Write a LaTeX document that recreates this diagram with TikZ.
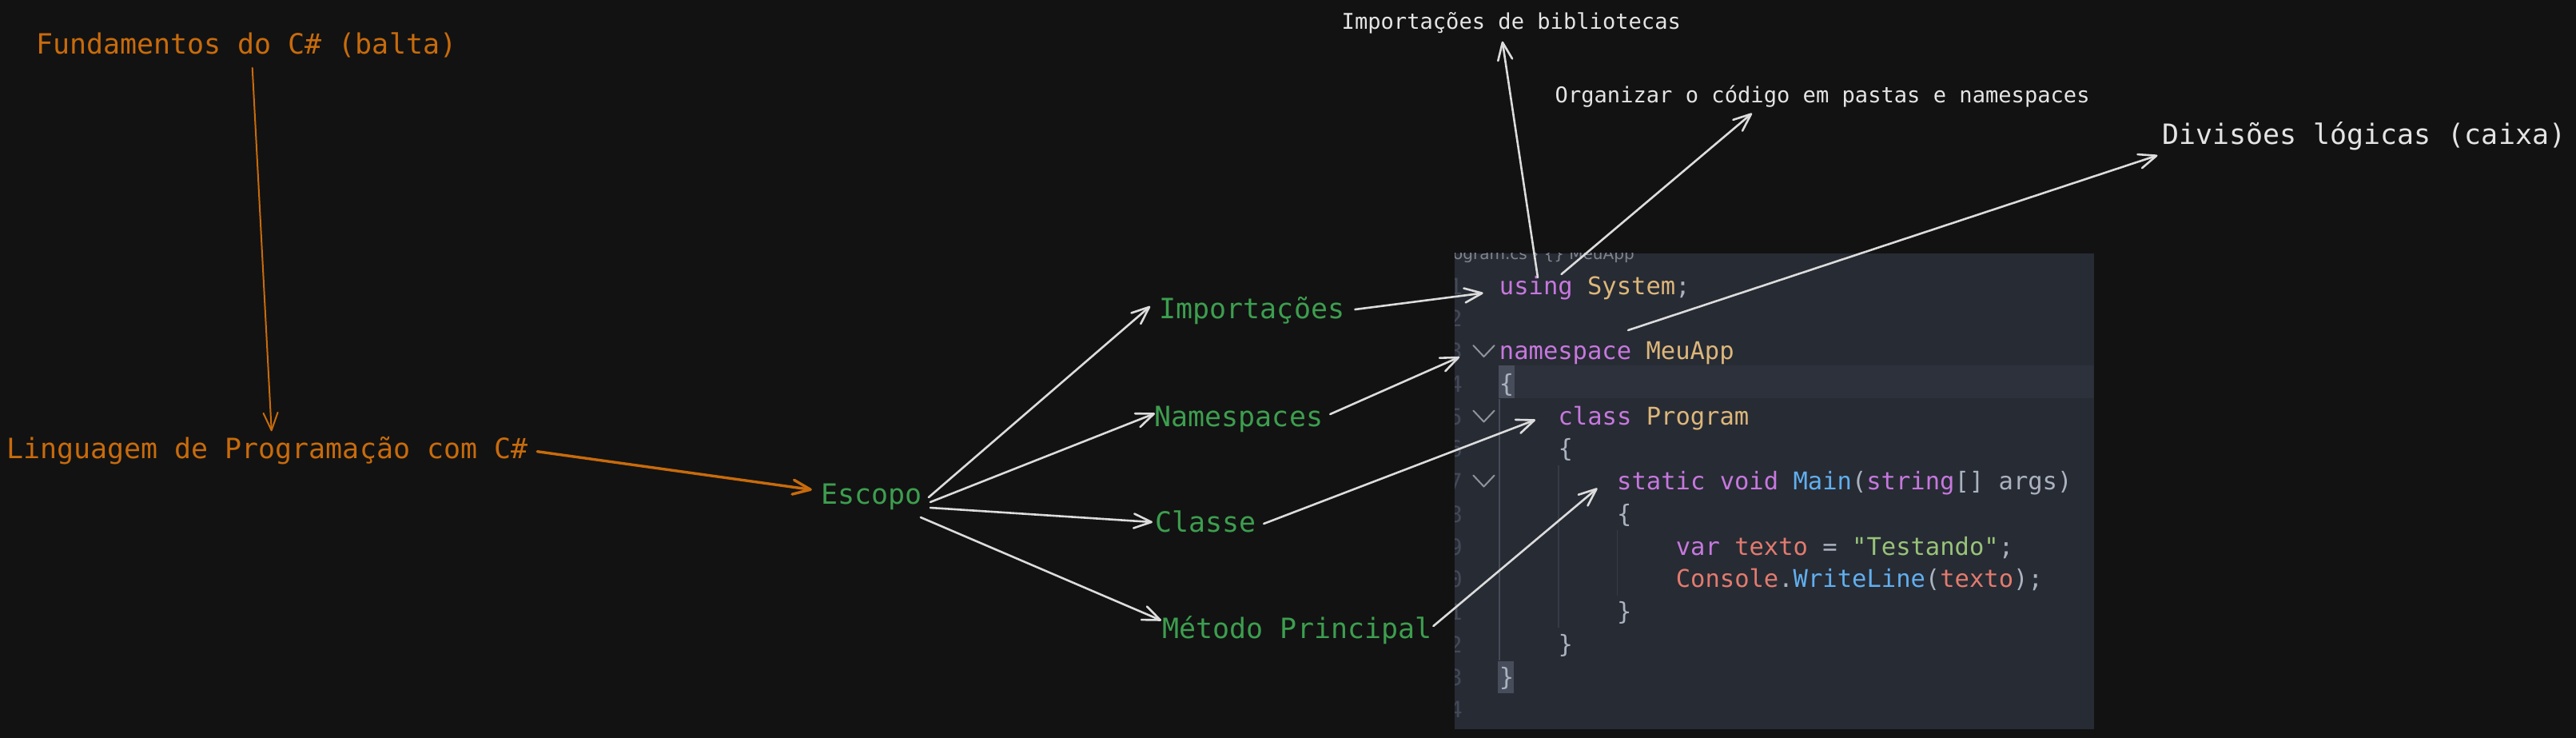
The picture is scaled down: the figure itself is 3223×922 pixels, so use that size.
\documentclass[tikz,border=0pt]{standalone}
\usepackage{fontspec}
\usetikzlibrary{arrows.meta}
\newfontfamily\monof{DejaVu Sans Mono}
\newfontfamily\sansf{DejaVu Sans}
\definecolor{bg}{HTML}{121212}
\definecolor{orng}{HTML}{C86B0C}
\definecolor{grn}{HTML}{3D9E4F}
\definecolor{wht}{HTML}{E4E4E4}
\definecolor{arrc}{HTML}{DCDCDC}
\definecolor{panel}{HTML}{272B34}
\definecolor{curline}{HTML}{2D313B}
\definecolor{bracebox}{HTML}{474D5B}
\definecolor{ckw}{HTML}{C678DD}
\definecolor{ctype}{HTML}{DDB77A}
\definecolor{cfn}{HTML}{61AFEF}
\definecolor{cvar}{HTML}{E27B6E}
\definecolor{cstr}{HTML}{98C379}
\definecolor{cgray}{HTML}{ABB2BF}
\definecolor{lnum}{HTML}{434957}
\definecolor{chev}{HTML}{8E939C}
\definecolor{guideA}{HTML}{454B57}
\definecolor{guideB}{HTML}{363B45}
\definecolor{crumbc}{HTML}{7F848E}
\begin{document}
\begin{tikzpicture}[x=1pt,y=-1pt,
  lab/.style={anchor=base west,inner sep=0pt,font=\monof\fontsize{34.95}{40}\selectfont},
  small/.style={anchor=base west,inner sep=0pt,font=\monof\fontsize{27.1}{32}\selectfont,text=wht},
  code/.style={anchor=base west,inner sep=0pt,font=\monof\fontsize{30.5}{36}\selectfont,text=cgray},
  lnumber/.style={anchor=base east,inner sep=0pt,font=\monof\fontsize{28}{34}\selectfont,text=lnum},
  arr/.style={draw=arrc,line width=2.6pt,line cap=round,line join=round,
    -{Straight Barb[length=22pt,width=18pt,round]}},
  oarr/.style={arr,draw=orng},
  chevron/.style={draw=chev,line width=2pt,line cap=round,line join=round}]
\useasboundingbox (0,0) rectangle (3223,922);
\fill[bg] (-10,-10) rectangle (3233,932);

% ---------- code panel ----------
\fill[panel] (1820,316.7) rectangle (2619.5,911.7);
\begin{scope}
\clip (1820,316.7) rectangle (2619.5,911.7);
\fill[curline] (1875,457) rectangle (2619.5,498);
\fill[bracebox] (1875,457) rectangle (1895,498);
\fill[bracebox] (1874,826.7) rectangle (1894,866.7);
\node[anchor=base west,inner sep=0pt,font=\sansf\fontsize{20}{24}\selectfont,text=crumbc] (crumb) at (1818,324) {ogram.cs › \{\} MeuApp};
\foreach \n in {1,...,14}{
  \node[lnumber] (ln\n) at (1830,{368+(\n-1)*40.75}) {\n};
}
\end{scope}
\draw[guideA,line width=1.5pt] (1876,499) -- (1876,826);
\draw[guideB,line width=1.5pt] (1950,582) -- (1950,785);
\draw[guideB,line width=1.5pt] (2023.3,663) -- (2023.3,745);
\draw[chevron] (1843.3,432) -- (1856.5,446) -- (1869.7,432);
\draw[chevron] (1843.3,513.5) -- (1856.5,527.5) -- (1869.7,513.5);
\draw[chevron] (1843.3,594.5) -- (1856.5,608.5) -- (1869.7,594.5);

\node[code] (c1) at (1875.7,368) {\color{ckw}using \color{ctype}System\color{cgray};};
\node[code] (c3) at (1875.7,449.5) {\color{ckw}namespace \color{ctype}MeuApp};
\node[code] (c4) at (1875.7,490.2) {\{};
\node[code] (c5) at (1949.4,531) {\color{ckw}class \color{ctype}Program};
\node[code] (c6) at (1949.4,571.7) {\{};
\node[code] (c7) at (2023,612.5) {\color{ckw}static void \color{cfn}Main\color{cgray}(\color{ckw}string\color{cgray}[] args)};
\node[code] (c8) at (2023,653.2) {\{};
\node[code] (c9) at (2096.6,694) {\color{ckw}var \color{cvar}texto \color{cgray}= \color{cstr}"Testando"\color{cgray};};
\node[code] (c10) at (2096.6,734.7) {\color{cvar}Console\color{cgray}.\color{cfn}WriteLine\color{cgray}(\color{cvar}texto\color{cgray});};
\node[code] (c11) at (2023,775.5) {\}};
\node[code] (c12) at (1949.4,816.2) {\}};
\node[code] (c13) at (1875.7,857) {\}};

% ---------- labels ----------
\node[lab,text=orng] (fund) at (45,67.9) {Fundamentos do C\# (balta)};
\node[lab,text=orng] (ling) at (8,573.7) {Linguagem de Programação com C\#};
\node[lab,text=grn] (escopo) at (1027,630) {Escopo};
\node[lab,text=grn] (imp) at (1450.5,398) {Importações};
\node[lab,text=grn] (ns) at (1444.5,533) {Namespaces};
\node[lab,text=grn] (classe) at (1445.5,665) {Classe};
\node[lab,text=grn] (metodo) at (1454.5,798) {Método Principal};
\node[small] (bib) at (1678.5,36) {Importações de bibliotecas};
\node[small] (org) at (1945.5,128.3) {Organizar o código em pastas e namespaces};
\node[lab,text=wht] (div) at (2705,180) {Divisões lógicas (caixa)};

% ---------- connectors ----------
\draw[oarr,line width=2pt] ([shift={(7.5,16.9)}]fund.base) -- ([shift={(5.4,-34.4)}]ling.base);
\draw[oarr,line width=3.4pt] ([shift={(11.6,-9)}]ling.base east) -- ([shift={(-11.2,-17.5)}]escopo.base west);
\draw[arr] ([shift={(8.2,-8)}]escopo.base east) -- ([shift={(-11.5,-15)}]imp.base west);
\draw[arr] ([shift={(10.2,-2)}]escopo.base east) -- ([shift={(0.5,-16)}]ns.base west);
\draw[arr] ([shift={(10.2,5)}]escopo.base east) -- ([shift={(-3.5,-12)}]classe.base west);
\draw[arr] ([shift={(-1.8,17)}]escopo.base east) -- ([shift={(-1.5,-22)}]metodo.base west);
\draw[arr] ([shift={(13,-11)}]imp.base east) -- ([shift={(-20,-1.5)}]c1.base west);
\draw[arr] ([shift={(8.9,-15)}]ns.base east) -- ([shift={(-49.7,-3)}]c3.base west);
\draw[arr] ([shift={(9,-10)}]classe.base east) -- ([shift={(-28.4,-6)}]c5.base west);
\draw[arr] ([shift={(1.8,-15)}]metodo.base east) -- ([shift={(-24.5,-1.9)}]c7.base west);
\draw[arr] ([shift={(48.3,-21)}]c1.base west) -- ([shift={(-11.1,15.7)}]bib.base);
\draw[arr] ([shift={(77.8,-25)}]c1.base west) -- ([shift={(246.5,13.4)}]org.base west);
\draw[arr] ([shift={(161.3,-36.5)}]c3.base west) -- ([shift={(-5.6,14.3)}]div.base west);
\end{tikzpicture}
\end{document}
